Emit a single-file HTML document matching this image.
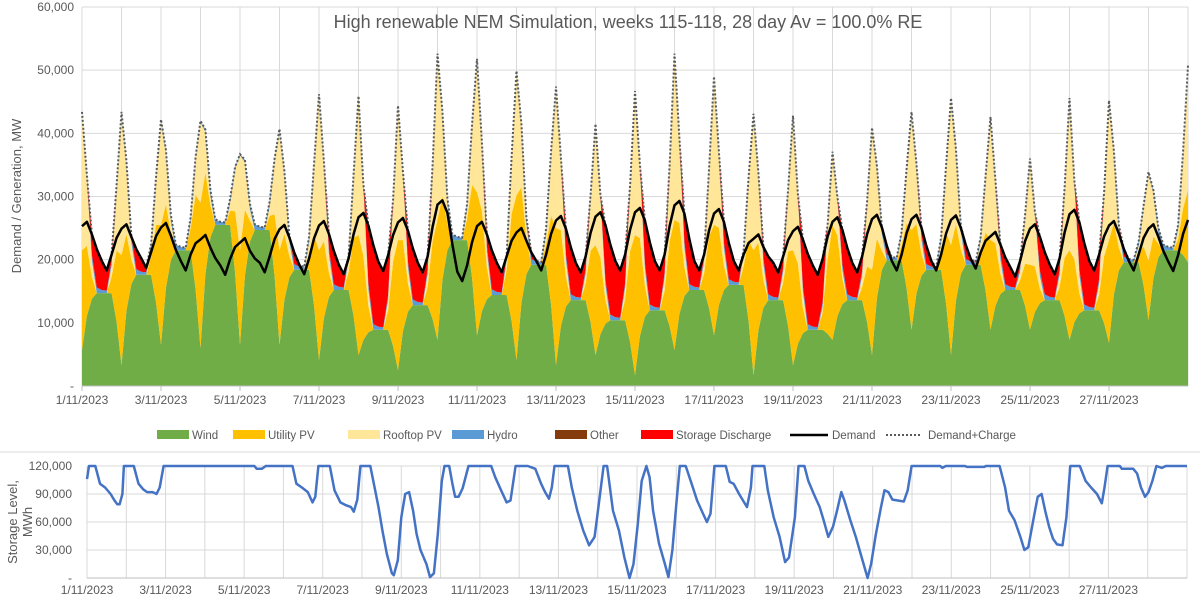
<!DOCTYPE html>
<html><head><meta charset="utf-8"><style>
body{margin:0;background:#fff;width:1200px;height:597px;overflow:hidden;font-family:"Liberation Sans",sans-serif}
svg text{font-family:"Liberation Sans",sans-serif;fill:#595959}
</style></head><body>
<svg id="c" width="1200" height="597" xmlns="http://www.w3.org/2000/svg"></svg>
<script>
// ---- Top chart data (MW), one value per day ----
const dayLabels=["1/11/2023","3/11/2023","5/11/2023","7/11/2023","9/11/2023","11/11/2023","13/11/2023","15/11/2023","17/11/2023","19/11/2023","21/11/2023","23/11/2023","25/11/2023","27/11/2023"];
const yTicksTop=[0,10000,20000,30000,40000,50000,60000];
const yTicksBot=[0,30000,60000,90000,120000];
const peakTotal=[43200,43200,42000,41800,36500,40500,46000,45700,44200,52400,51600,49700,47200,41300,46500,52400,48800,42900,42600,36900,40700,43200,45400,42400,35800,45400,45000,33700,50500];
const demandPeak=[26000,25600,25800,23900,23400,25500,26100,27400,26600,29400,26000,25000,26900,27500,28200,29300,28000,24000,25200,26700,27100,27100,27000,24400,25600,27900,26100,25600,27000];
const demandTrough=[18300,18700,18300,17600,18000,17700,17700,18200,18000,16600,18000,18300,18000,18300,18300,18300,18300,18000,17600,18000,18300,18300,18600,17300,17700,18300,18300,18200];
const windNoon=[5700,3300,6500,6000,6500,6500,4100,4900,2500,7300,8000,4100,3300,4900,1700,5700,8000,1700,3300,7300,4900,8900,4900,8900,8900,7300,6800,10400,19600];
const windNight=[14700,17600,21500,25500,24700,18400,15200,8900,12800,23100,14400,19200,13600,10400,12000,15200,16000,13600,8900,13600,19900,18400,19200,15200,13600,12000,19600,21500];
const upvTop=[21500,20700,25500,29000,21500,21500,21500,23900,23100,26300,30700,30200,25000,22300,23900,26300,25500,21500,21500,25500,18400,24700,22300,23100,19200,21500,23100,19900,31000];
// ---- Bottom chart data: storage level (day offset, thousand MWh) ----
const storDays=[0,0.05,0.21,0.33,0.46,0.60,0.70,0.77,0.83,0.90,0.94,1.19,1.31,1.43,1.53,1.67,1.77,1.85,1.95,4.26,4.32,4.45,4.55,5.23,5.33,5.47,5.62,5.74,5.81,5.89,6.18,6.30,6.45,6.59,6.72,6.79,6.88,6.96,7.21,7.32,7.42,7.52,7.63,7.76,7.81,7.91,8.00,8.10,8.20,8.30,8.39,8.49,8.64,8.73,8.83,8.93,9.03,9.10,9.22,9.30,9.37,9.46,9.56,9.71,10.29,10.39,10.54,10.68,10.78,10.91,11.22,11.41,11.56,11.66,11.76,11.83,11.90,12.24,12.34,12.48,12.63,12.78,12.92,13.05,13.15,13.24,13.39,13.54,13.68,13.81,13.91,14.02,14.12,14.24,14.32,14.41,14.56,14.71,14.80,14.90,15.00,15.09,15.24,15.39,15.53,15.68,15.78,15.87,15.97,16.26,16.36,16.46,16.60,16.80,16.90,16.94,17.24,17.33,17.48,17.63,17.77,17.87,18.02,18.11,18.26,18.36,18.50,18.65,18.75,18.87,18.99,19.09,19.20,19.28,19.43,19.57,19.72,19.87,19.96,20.08,20.21,20.30,20.40,20.50,20.64,20.79,20.89,20.99,21.72,21.77,21.86,22.35,22.40,22.84,22.88,23.23,23.37,23.47,23.61,23.76,23.86,23.96,24.10,24.20,24.30,24.39,24.49,24.59,24.69,24.83,24.93,25.03,25.27,25.42,25.56,25.71,25.83,25.90,25.98,26.29,26.34,26.63,26.73,26.83,26.93,27.02,27.12,27.22,27.36,27.46,28.0];
const storVals=[106,120,120,101,97,90,83,79,79,90,120,120,101,95,92,92,90,97,120,120,117,117,120,120,101,97,92,81,87,120,120,94,81,78,76,71,84,120,120,97,76,51,26,5,3,19,65,90,92,72,47,30,15,1,5,47,104,120,120,101,87,87,96,120,120,108,94,81,83,120,120,117,101,92,85,97,120,120,97,72,51,35,44,87,120,120,72,51,22,0,15,58,104,120,108,72,37,15,1,30,79,120,120,101,83,69,60,69,120,120,103,101,90,76,97,120,120,94,65,44,17,22,65,120,120,104,90,76,62,44,55,72,92,83,62,44,22,0,15,47,76,94,92,84,83,82,94,120,120,118,120,120,119,119,120,120,97,72,62,44,30,33,65,87,90,72,55,42,36,35,65,120,120,104,97,90,80,97,120,120,117,117,112,97,87,92,104,120,118,120,120];

const svg=document.getElementById('c');
const NS='http://www.w3.org/2000/svg';
function mk(tag,attrs,parent){const e=document.createElementNS(NS,tag);for(const k in attrs)e.setAttribute(k,attrs[k]);(parent||svg).appendChild(e);return e;}
const TX0=82,TX1=1188,TY0=386,TY1=7,NDAYS=28;
const tx=d=>TX0+d*(TX1-TX0)/NDAYS;
const ty=v=>TY0-v*(TY0-TY1)/60000;
const BX0=87,BX1=1187,BY0=578,BY1=466;
const bx=d=>BX0+d*(BX1-BX0)/NDAYS;
const by=v=>BY0-v*(BY0-BY1)/120000;
const fmt=v=>v===0?'-':v.toLocaleString('en-US');

const gTop=mk('g',{});


yTicksTop.forEach(v=>{
  mk('line',{x1:TX0,x2:TX1,y1:ty(v),y2:ty(v),stroke:'#d9d9d9','stroke-width':1},gTop);
  const t=mk('text',{x:TX0-8,y:ty(v)+4,'text-anchor':'end','font-size':12});
  t.textContent=fmt(v);
  
  
});
for(let d=0;d<=NDAYS;d++)mk('line',{x1:tx(d),x2:tx(d),y1:TY1,y2:TY0,stroke:'#d9d9d9','stroke-width':1},gTop);

const T=[],W=[],U=[],R=[],H=[],S=[],D=[],DC=[];
const hs=[0,3,6,9,12,15,18,21];
const hydroP=[200,400,900,900,500,400,700,300];
const uF=[1,0.7,0.22,0,0,0,0.15,0.65];
const rF=[1,0.5,0.12,0,0,0,0.08,0.45];
for(let d=0;d<=NDAYS;d++){
  for(let i=0;i<hs.length;i++){
    const h=hs[i]; if(d===NDAYS&&h>0)break;
    const n=Math.min(d+1,NDAYS), wN=windNight[Math.min(d,NDAYS-1)], dTr=demandTrough[Math.min(d,NDAYS-1)];
    const dd=h>=18?n:d;
    const Uq=upvTop[dd]-windNoon[dd],Rq=peakTotal[dd]-upvTop[dd];
    let w,dm;
    if(h===0){w=windNoon[d];dm=demandPeak[d]-700;}
    else if(h===3){w=windNoon[d]+0.6*(wN-windNoon[d]);dm=demandPeak[d];}
    else if(h===6){w=windNoon[d]+0.9*(wN-windNoon[d]);dm=demandPeak[d]-2000;}
    else if(h===9){w=wN;dm=(demandPeak[d]+dTr)/2-500;}
    else if(h===12){w=wN;dm=dTr+1500;}
    else if(h===15){w=wN;dm=dTr;}
    else if(h===18){w=wN;dm=dTr+2500;}
    else {w=windNoon[n]+0.6*(wN-windNoon[n]);dm=(dTr+demandPeak[n])/2+1500;}
    const u=uF[i]*Uq,r=rF[i]*Rq,hy=hydroP[i];
    const gen=w+u+r+hy;
    const s=Math.max(0,dm-gen);
    T.push(d+h/24);W.push(w);U.push(u);R.push(r);H.push(hy);S.push(s);D.push(dm);DC.push(Math.max(dm,gen));
  }
}
const layers=[['wind-area',W,'#70ad47'],['utility-pv-area',U,'#ffc000'],['rooftop-pv-area',R,'#ffe699'],['hydro-area',H,'#5b9bd5'],['storage-discharge-area',S,'#ff0000']];
let base=T.map(()=>0);
layers.forEach(([name,arr,col])=>{
  const top=base.map((b,i)=>b+arr[i]);
  let p='M'+T.map((t,i)=>tx(t).toFixed(1)+','+ty(top[i]).toFixed(1)).join('L');
  for(let i=T.length-1;i>=0;i--)p+='L'+tx(T[i]).toFixed(1)+','+ty(base[i]).toFixed(1);
  const e=mk('path',{d:p+'Z',fill:col,stroke:'none'});
  
  
  base=top;
});
const dcl=mk('polyline',{points:T.map((t,i)=>tx(t).toFixed(1)+','+ty(DC[i]).toFixed(1)).join(' '),fill:'none',stroke:'#595959','stroke-width':2,'stroke-dasharray':'2,2'});


const dl=mk('polyline',{points:T.map((t,i)=>tx(t).toFixed(1)+','+ty(D[i]).toFixed(1)).join(' '),fill:'none',stroke:'#000','stroke-width':2.5,'stroke-linejoin':'round'});


mk('line',{x1:TX0,x2:TX1,y1:TY0,y2:TY0,stroke:'#bfbfbf'});
dayLabels.forEach((l,i)=>{
  mk('line',{x1:tx(i*2),x2:tx(i*2),y1:TY0,y2:TY0+5,stroke:'#bfbfbf'});
  const t=mk('text',{x:tx(i*2),y:TY0+18,'text-anchor':'middle','font-size':12});
  t.textContent=l;
  
  
});
const title=mk('text',{x:628,y:28,'text-anchor':'middle','font-size':18});
title.textContent='High renewable NEM Simulation, weeks 115-118, 28 day Av = 100.0% RE';


const yt=mk('text',{x:0,y:0,'text-anchor':'middle','font-size':13,transform:'translate(21,196) rotate(-90)'});
yt.textContent='Demand / Generation, MW';



const legend=[['Wind','#70ad47',157,'box'],['Utility PV','#ffc000',233,'box'],['Rooftop PV','#ffe699',348,'box'],['Hydro','#5b9bd5',452,'box'],['Other','#843c0c',555,'box'],['Storage Discharge','#ff0000',641,'box'],['Demand','#000',790,'line'],['Demand+Charge','#595959',886,'dot']];
legend.forEach(([lab,col,x,kind])=>{
  const g=mk('g',{});
  
  
  if(kind==='box')mk('rect',{x:x,y:430,width:32,height:9,fill:col},g);
  else if(kind==='line')mk('line',{x1:x,x2:x+38,y1:435,y2:435,stroke:col,'stroke-width':2.5},g);
  else mk('line',{x1:x,x2:x+36,y1:435,y2:435,stroke:col,'stroke-width':2,'stroke-dasharray':'2,2'},g);
  const t=mk('text',{x:x+(kind==='box'?35:42),y:439,'font-size':11.5},g);t.textContent=lab;
});
mk('line',{x1:0,x2:1200,y1:452,y2:452,stroke:'#d9d9d9'});

const gB=mk('g',{});


yTicksBot.forEach(v=>{
  mk('line',{x1:BX0,x2:BX1,y1:by(v),y2:by(v),stroke:'#d9d9d9'},gB);
  const t=mk('text',{x:BX0-15,y:by(v)+4,'text-anchor':'end','font-size':12});
  t.textContent=fmt(v);
  
  
});
for(let d=0;d<=NDAYS;d++)mk('line',{x1:bx(d),x2:bx(d),y1:BY1,y2:BY0,stroke:'#d9d9d9'},gB);
mk('line',{x1:BX0,x2:BX1,y1:BY0,y2:BY0,stroke:'#bfbfbf'});
dayLabels.forEach((l,i)=>{
  const t=mk('text',{x:bx(i*2),y:BY0+16,'text-anchor':'middle','font-size':12});
  t.textContent=l;
  
  
});
const sl=mk('polyline',{points:storDays.map((d,i)=>bx(d).toFixed(1)+','+by(storVals[i]*1000).toFixed(1)).join(' '),fill:'none',stroke:'#4472c4','stroke-width':2.5,'stroke-linejoin':'round'});


const bt=mk('text',{x:0,y:0,'text-anchor':'middle','font-size':13,transform:'translate(17,522) rotate(-90)'});


const s1=mk('tspan',{x:0,dy:0},bt);s1.textContent='Storage Level,';
const s2=mk('tspan',{x:0,dy:15},bt);s2.textContent='MWh';
</script>
</body></html>
